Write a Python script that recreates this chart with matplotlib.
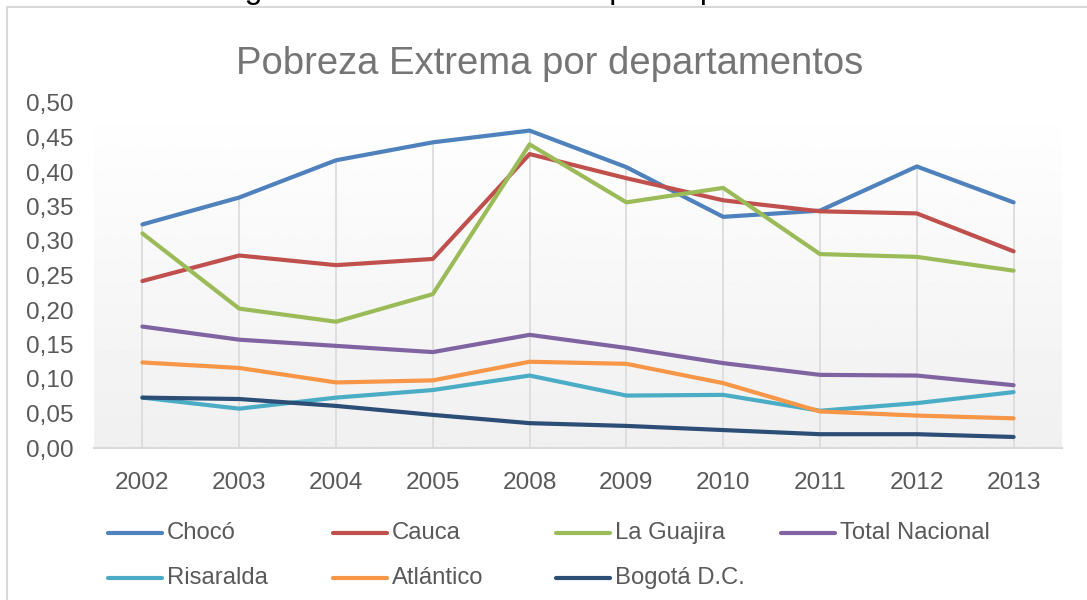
import numpy as np
import matplotlib; matplotlib.use("Agg")
import matplotlib.pyplot as plt
from matplotlib import font_manager
from matplotlib.lines import Line2D
from matplotlib.patches import Rectangle

years = ["2002", "2003", "2004", "2005", "2008", "2009", "2010", "2011", "2012", "2013"]
choco = [0.324, 0.363, 0.417, 0.443, 0.460, 0.407, 0.335, 0.344, 0.408, 0.356]
cauca = [0.242, 0.279, 0.265, 0.274, 0.426, 0.391, 0.359, 0.343, 0.340, 0.285]
guajira = [0.311, 0.202, 0.183, 0.223, 0.440, 0.356, 0.377, 0.281, 0.277, 0.257]
total_nacional = [0.176, 0.157, 0.148, 0.139, 0.164, 0.145, 0.123, 0.106, 0.105, 0.091]
risaralda = [0.073, 0.057, 0.073, 0.084, 0.105, 0.076, 0.077, 0.054, 0.065, 0.081]
atlantico = [0.124, 0.116, 0.095, 0.098, 0.125, 0.122, 0.094, 0.053, 0.047, 0.043]
bogota = [0.073, 0.071, 0.061, 0.048, 0.036, 0.032, 0.026, 0.020, 0.020, 0.016]

names = ["Chocó", "Cauca", "La Guajira", "Total Nacional", "Risaralda", "Atlántico", "Bogotá D.C."]
series = [choco, cauca, guajira, total_nacional, risaralda, atlantico, bogota]
colors = ["#4F81BD", "#C0504D", "#9BBB59", "#8064A2", "#4BACC6", "#F79646", "#2C4D75"]

W, H = 1087, 600
GRAY = "#595959"
plt.rcParams["font.family"] = ["Liberation Sans", "DejaVu Sans"]

avail = {f.name for f in font_manager.fontManager.ttflist}
if "Liberation Sans Narrow" in avail:
    title_fam, title_size = "Liberation Sans Narrow", 33.5
else:
    title_fam, title_size = "Liberation Sans", 27.5

fig = plt.figure(figsize=(W / 100, H / 100), dpi=100)
ax = fig.add_axes([94 / W, 1 - 448 / H, (1062 - 94) / W, (448 - 103) / H])

x = np.arange(len(years))
# plot-area gradient
grad = np.linspace(1.0, 0.94, 256).reshape(-1, 1)
ax.imshow(grad, cmap="gray", vmin=0, vmax=1, extent=(-0.5, len(years) - 0.5, 0, 0.5),
          aspect="auto", zorder=0, interpolation="bilinear")

# drop lines
top = np.max(np.array(series), axis=0)
ax.vlines(x, 0, top, color="#DCDCDC", lw=1.3, zorder=1)

for vals, c in zip(series, colors):
    ax.plot(x, vals, color=c, lw=3.0, solid_capstyle="round", solid_joinstyle="round", zorder=3)

ax.set_xlim(-0.5, len(years) - 0.5)
ax.set_ylim(0, 0.5)
ax.set_yticks(np.arange(0, 0.51, 0.05))
ax.set_yticklabels([f"{v:.2f}".replace(".", ",") for v in np.arange(0, 0.51, 0.05)])
ax.set_xticks(x)
ax.set_xticklabels(years)
ax.tick_params(length=0, labelsize=17.6, colors=GRAY)
ax.tick_params(axis="y", pad=15)
ax.tick_params(axis="x", pad=17)
for s in ["top", "right", "left"]:
    ax.spines[s].set_visible(False)
ax.spines["bottom"].set_color("#D9D9D9")
ax.spines["bottom"].set_linewidth(1.5)

# titles
fig.text(549.5 / W, 1 - 74 / H, "Pobreza Extrema por departamentos", ha="center", va="baseline",
         fontsize=title_size, family=title_fam, color="#757575")
# caption of the page above, cut by the crop
fig.text(218 / W, 1 + 2.4 / H, "Figura 1. Pobreza Extrema por departamentos", ha="left",
         va="baseline", fontsize=23, color="black")

# chart frame
fig.add_artist(Rectangle((7 / W, -0.1), 2, 1.1 - 7 / H, transform=fig.transFigure,
                         fill=False, edgecolor="#D9D9D9", lw=1.5))

# legend (4 columns, row-major like Excel)
col_x = [108, 333, 556, 781]
row_y = [533, 578]
for i, (nm, c) in enumerate(zip(names, colors)):
    cx, cy = col_x[i % 4], row_y[i // 4]
    fig.add_artist(Line2D([cx / W, (cx + 54) / W], [1 - cy / H] * 2, transform=fig.transFigure,
                          color=c, lw=3.0, solid_capstyle="round"))
    fig.text((cx + 59) / W, 1 - cy / H, nm, ha="left", va="center", fontsize=17.2, color=GRAY)

fig.savefig("out.png", dpi=100)
